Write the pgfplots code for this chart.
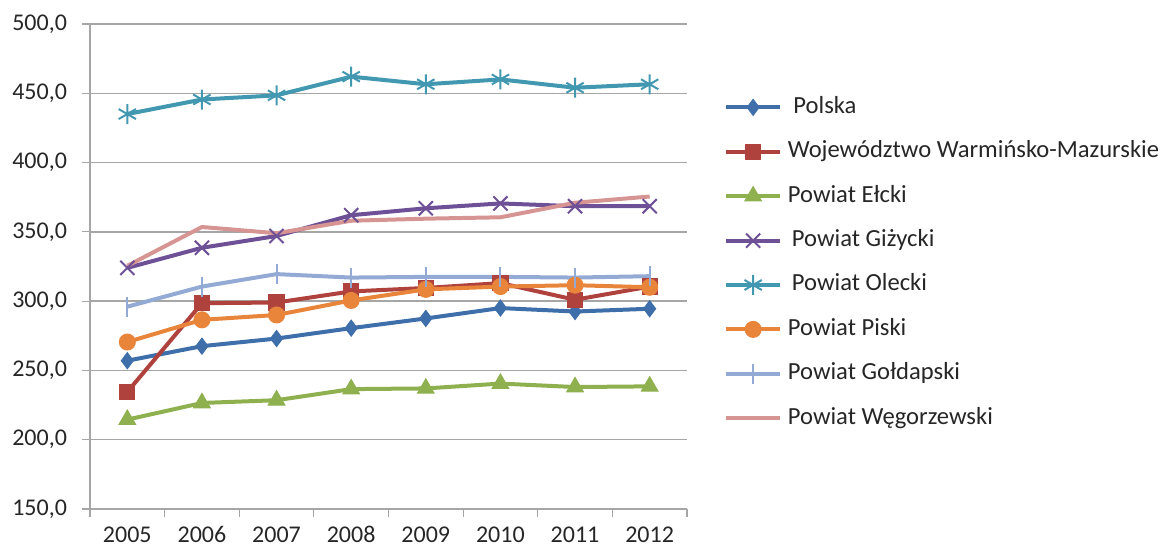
\documentclass[border=0pt]{standalone}
\usepackage{fontspec}
\setmainfont{Carlito}
\usepackage{pgfplots}
\pgfplotsset{compat=1.18}
\definecolor{cPol}{HTML}{3E6FAA}
\definecolor{cWoj}{HTML}{B0423E}
\definecolor{cElk}{HTML}{8FB04E}
\definecolor{cGiz}{HTML}{6E5096}
\definecolor{cOle}{HTML}{4298B0}
\definecolor{cPis}{HTML}{E8853A}
\definecolor{cGol}{HTML}{93AAD4}
\definecolor{cWeg}{HTML}{D69593}
\definecolor{cGrid}{HTML}{A6A6A6}
\definecolor{cTxt}{HTML}{262626}
\begin{document}
\begin{tikzpicture}
\path[use as bounding box] (0,0) rectangle (581.5pt,274.5pt);
\begin{axis}[
  at={(45pt,20pt)}, anchor=south west,
  scale only axis, width=298.5pt, height=242.5pt,
  xmin=2004.5, xmax=2012.5, ymin=150, ymax=500,
  xtick={2005,...,2012},
  minor xtick={2004.5,2005.5,...,2012.5},
  ytick={150,200,...,500},
  axis x line*=bottom, axis y line*=left,
  axis line style={cGrid, line width=0.75pt, -},
  ymajorgrids, grid style={cGrid, line width=0.75pt},
  tick align=outside,
  major tick length=4pt, minor tick length=4pt,
  x tick style={draw=none}, minor x tick style={draw=cGrid, line width=0.6pt},
  y tick style={cGrid, line width=0.6pt},
  tick label style={font=\fontsize{12}{14}\selectfont, text=cTxt},
  /pgf/number format/assume math mode=true,
  xticklabel style={/pgf/number format/1000 sep={}, text height=8pt, text depth=0pt, yshift=-1pt},
  yticklabel style={xshift=-4pt, /pgf/number format/.cd, fixed, fixed zerofill, precision=1, use comma, 1000 sep={}},
  every axis plot/.append style={line width=2pt},
  legend cell align=left,
  legend style={draw=none, fill=none, at={(rel axis cs:1,1)}, anchor=north west,
    xshift=18.5pt, yshift=-35.5pt, inner sep=0pt, row sep=10.2pt,
    font=\fontsize{12.3}{14}\selectfont, text=cTxt,
    nodes={inner sep=0pt, text height=9pt, text depth=3pt}},
  /tikz/every odd column/.append style={column sep=3pt},
  legend image code/.code={\draw[mark repeat=2,mark phase=2] plot coordinates {(0cm,0cm) (0.47cm,0cm) (0.94cm,0cm)};},
]
\addplot[cPol, mark=diamond*, mark size=4pt, mark options={solid,fill=cPol,line width=0.5pt}] coordinates {
(2005,257) (2006,267.5) (2007,273) (2008,280.5) (2009,287.5) (2010,295) (2011,292.5) (2012,294.5)};
\addlegendentry{\ Polska}
\addplot[cWoj, mark=square*, mark size=3.8pt, mark options={solid,fill=cWoj,line width=0.5pt}] coordinates {
(2005,234.5) (2006,298.5) (2007,299) (2008,307) (2009,309.5) (2010,313) (2011,301) (2012,310.5)};
\addlegendentry{Województwo Warmińsko-Mazurskie}
\addplot[cElk, mark=triangle*, mark size=4.8pt, mark options={solid,fill=cElk,line width=0.5pt}] coordinates {
(2005,214.5) (2006,226.5) (2007,228.5) (2008,236.5) (2009,237) (2010,240.5) (2011,238) (2012,238.5)};
\addlegendentry{Powiat Ełcki}
\addplot[cGiz, mark=x, mark size=5pt, mark options={solid,line width=1pt}] coordinates {
(2005,324) (2006,338.5) (2007,347) (2008,362) (2009,367) (2010,370.5) (2011,368.5) (2012,368.5)};
\addlegendentry{\,Powiat Giżycki}
\addplot[cOle, mark=asterisk, mark size=5pt, mark options={solid,line width=1pt}] coordinates {
(2005,435) (2006,445.5) (2007,448.5) (2008,462) (2009,456.5) (2010,460) (2011,454) (2012,456.5)};
\addlegendentry{\,Powiat Olecki}
\addplot[cPis, mark=*, mark size=4pt, mark options={solid,fill=cPis,line width=0.5pt}] coordinates {
(2005,270.5) (2006,286.5) (2007,290) (2008,300.5) (2009,308.5) (2010,310.5) (2011,311.5) (2012,310)};
\addlegendentry{Powiat Piski}
\addplot[cGol, mark=|, mark size=5pt, mark options={solid,line width=1pt}] coordinates {
(2005,296) (2006,310.5) (2007,319.5) (2008,317) (2009,317.5) (2010,317.5) (2011,317) (2012,318)};
\addlegendentry{Powiat Gołdapski}
\addplot[cWeg, no marks] coordinates {
(2005,325.5) (2006,353.5) (2007,349) (2008,358) (2009,359.5) (2010,360.5) (2011,371) (2012,375.5)};
\addlegendentry{Powiat Węgorzewski}
\end{axis}
\end{tikzpicture}
\end{document}
